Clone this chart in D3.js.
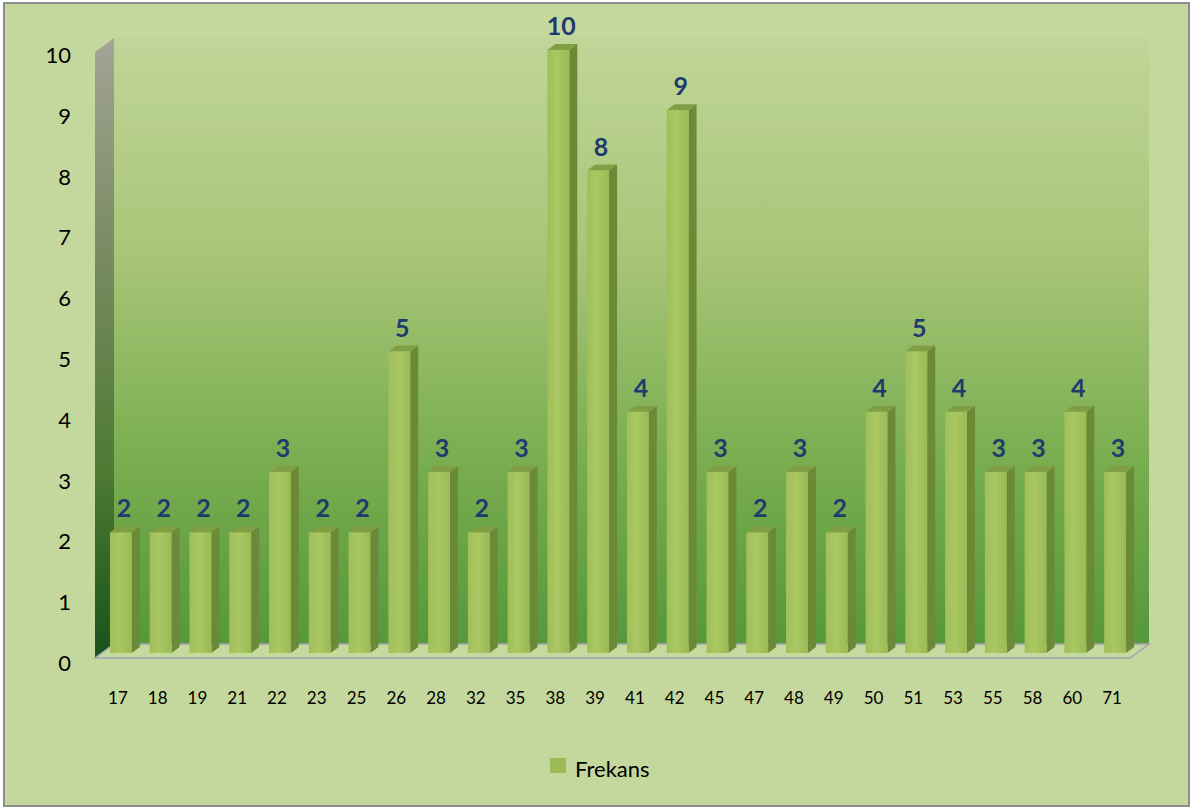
<!DOCTYPE html>
<html lang="en">
  <head>
    <meta charset="UTF-8" />
    <title>Frekans</title>
    <script src="https://d3js.org/d3.v7.min.js"></script>
    <style>
      body { margin: 0; background: #fff; }
      text { font-family: Lato, 'Open Sans', sans-serif; }
    </style>
  </head>
  <body>
    <svg width="1192" height="810"></svg>

    <script>
      // Data
      const categories = ['17', '18', '19', '21', '22', '23', '25', '26', '28', '32', '35', '38', '39',
        '41', '42', '45', '47', '48', '49', '50', '51', '53', '55', '58', '60', '71'];
      const frequencies = [2, 2, 2, 2, 3, 2, 2, 5, 3, 2, 3, 10, 8, 4, 9, 3, 2, 3, 2, 4, 5, 4, 3, 3, 4, 3];
      const yTicks = [0, 1, 2, 3, 4, 5, 6, 7, 8, 9, 10];
      const seriesName = 'Frekans';

      const svg = d3.select('svg');
      const defs = svg.append('defs');

      // depth offsets of the 3D box
      const dx = 19, dy = -14;
      const barDx = 8, barDy = -6;

      // Scales
      const x = d3.scaleBand().domain(categories).range([101, 1135]).paddingInner(0.45).paddingOuter(0.225);
      const y = d3.scaleLinear().domain([0, 10]).range([653, 50]);
      const yLabel = d3.scaleLinear().domain([0, 10]).range([663, 55]);

      // Gradients
      function linGrad(id, x2, y2, stops) {
        const g = defs.append('linearGradient').attr('id', id)
          .attr('x1', 0).attr('y1', 0).attr('x2', x2).attr('y2', y2);
        stops.forEach(([o, c]) => g.append('stop').attr('offset', o).attr('stop-color', c));
      }
      linGrad('wall', 0, 1, [[0, '#c0d598'], [0.35, '#a9c678'], [0.7, '#78ad50'], [1, '#56983a']]);
      linGrad('side', 0, 1, [[0, '#a3a596'], [0.3, '#7f8d68'], [0.7, '#4d7a33'], [1, '#17521a']]);
      linGrad('front', 1, 0, [[0, '#a0bf5a'], [0.45, '#a9c862'], [1, '#9aba55']]);

      // Background + border
      svg.append('rect').attr('x', 4).attr('y', 3).attr('width', 1185).attr('height', 803)
        .attr('fill', '#c4d79c').attr('stroke', '#8d8d8d').attr('stroke-width', 2);

      const x0 = 95, x1 = 1130, yb = 658, yt = 52;

      // Back wall
      svg.append('polygon')
        .attr('points', [[x0 + dx, yt + dy], [x1 + dx, yt + dy], [x1 + dx, yb + dy], [x0 + dx, yb + dy]].join(' '))
        .attr('fill', 'url(#wall)');

      // Side wall
      svg.append('polygon')
        .attr('points', [[x0, yt], [x0 + dx, yt + dy], [x0 + dx, yb + dy], [x0, yb]].join(' '))
        .attr('fill', 'url(#side)');

      // Floor
      svg.append('polygon')
        .attr('points', [[x0, yb], [x0 + dx, yb + dy], [x1 + dx, yb + dy], [x1, yb]].join(' '))
        .attr('fill', '#c6d99e').attr('stroke', '#a4a3b3').attr('stroke-width', 1.5);

      // Bars
      const bars = svg.append('g').selectAll('g').data(categories).enter().append('g');
      const bw = x.bandwidth();

      bars.append('polygon') // side
        .attr('points', (c, i) => {
          const r = x(c) + bw, t = y(frequencies[i]), b = y(0);
          return [[r, t], [r + barDx, t + barDy], [r + barDx, b + barDy], [r, b]].join(' ');
        })
        .attr('fill', '#6b8a37');

      bars.append('polygon') // top
        .attr('points', (c, i) => {
          const l = x(c), t = y(frequencies[i]);
          return [[l, t], [l + barDx, t + barDy], [l + bw + barDx, t + barDy], [l + bw, t]].join(' ');
        })
        .attr('fill', '#809f45');

      bars.append('rect') // front
        .attr('x', (c) => x(c))
        .attr('y', (c, i) => y(frequencies[i]))
        .attr('width', bw)
        .attr('height', (c, i) => y(0) - y(frequencies[i]))
        .attr('fill', 'url(#front)');

      // Value labels
      svg.append('g').selectAll('text').data(categories).enter().append('text')
        .attr('x', (c) => x(c) + bw / 2 + 3)
        .attr('y', (c, i) => y(frequencies[i]) - 15)
        .attr('text-anchor', 'middle')
        .attr('font-size', 25)
        .attr('font-weight', 'bold')
        .attr('fill', '#1f3b6e')
        .text((c, i) => frequencies[i]);

      // Y axis labels
      svg.append('g').selectAll('text').data(yTicks).enter().append('text')
        .attr('x', 71)
        .attr('y', (d) => yLabel(d) + 8)
        .attr('text-anchor', 'end')
        .attr('font-size', 22)
        .attr('fill', '#000')
        .text((d) => d);

      // X axis labels
      svg.append('g').selectAll('text').data(categories).enter().append('text')
        .attr('x', (c) => x(c) + bw / 2 - 3)
        .attr('y', 704)
        .attr('text-anchor', 'middle')
        .attr('font-size', 17)
        .attr('fill', '#000')
        .text((c) => c);

      // Legend
      const legend = svg.append('g');
      legend.append('rect').attr('x', 550).attr('y', 758).attr('width', 16).attr('height', 15)
        .attr('fill', '#9bbb59');
      legend.append('text').attr('x', 575).attr('y', 777).attr('font-size', 22).attr('fill', '#000')
        .text(seriesName);
    </script>
  </body>
</html>
